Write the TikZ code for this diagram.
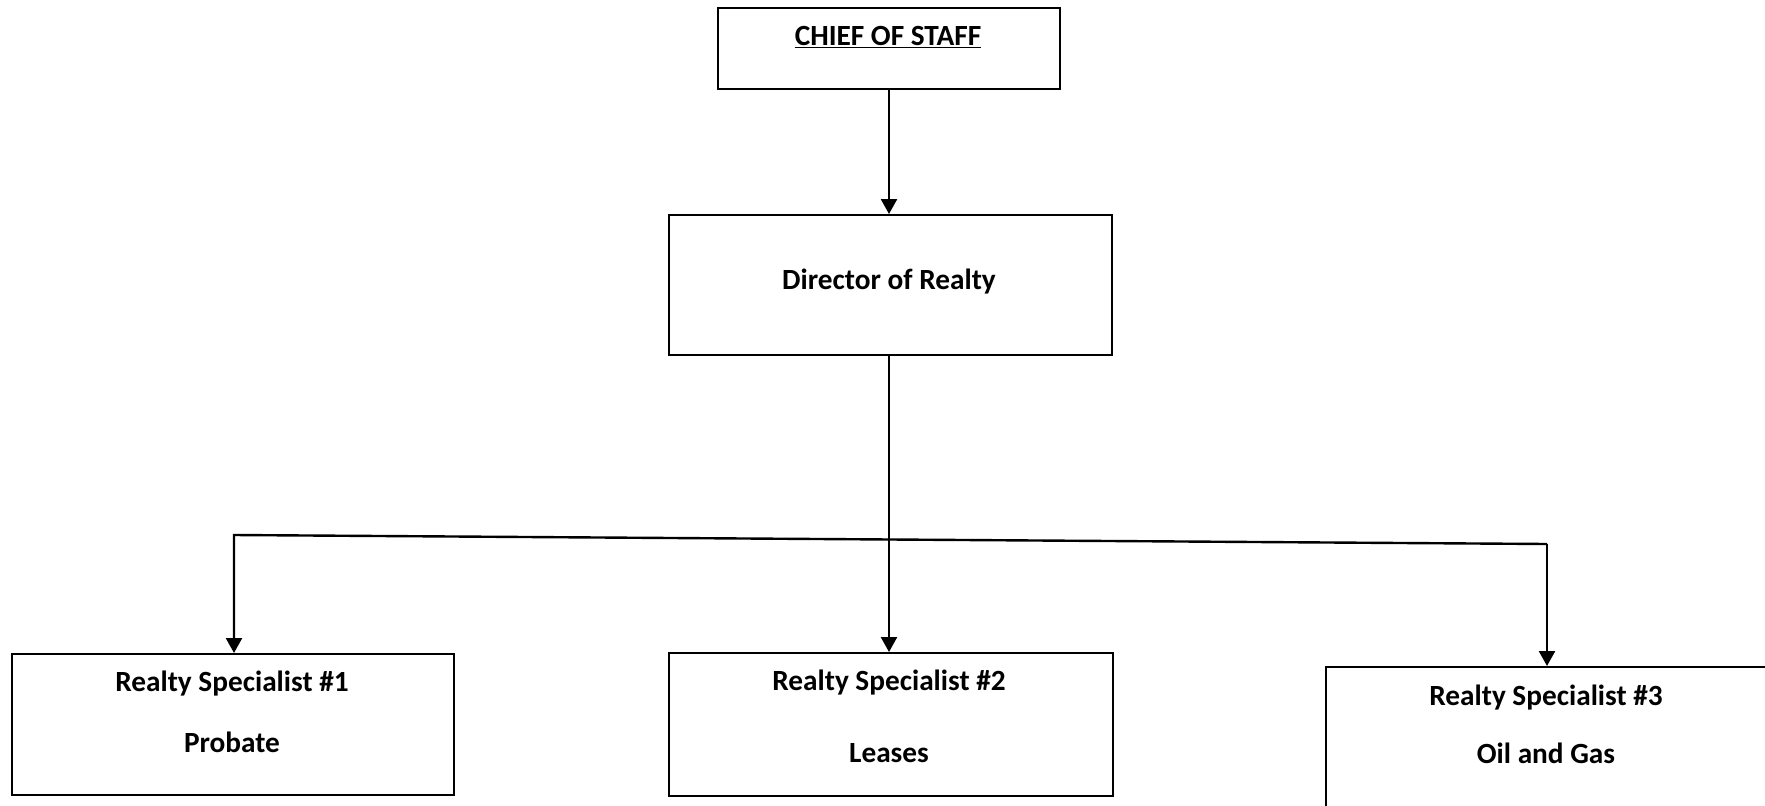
\documentclass[tikz,border=0pt]{standalone}
\usepackage{fontspec}
\setmainfont{Carlito}
\usetikzlibrary{arrows.meta}
\begin{document}
\begin{tikzpicture}[x=1pt,y=-1pt,
  box/.style={draw=black,line width=2pt,inner sep=0pt,anchor=north west},
  lbl/.style={font=\fontsize{29.3}{35}\selectfont\bfseries,inner sep=0pt,anchor=center},
  conn/.style={line width=2.4pt},
  arr/.style={line width=2.4pt,-{Triangle[width=16pt,length=15pt]}}]
\useasboundingbox (0,0) rectangle (1765,806);
\clip (0,0) rectangle (1765,806);
\fill[white] (0,0) rectangle (1765,806);
% boxes
\node[box,minimum width=342pt,minimum height=81pt] (chief) at (717,7) {};
\node[box,minimum width=443pt,minimum height=140pt] (dir) at (668,214) {};
\node[box,minimum width=442pt,minimum height=141pt] (rs1) at (11,653) {};
\node[box,minimum width=444pt,minimum height=143pt] (rs2) at (668,652) {};
\node[box,minimum width=500pt,minimum height=200pt] (rs3) at (1325,666) {};
% texts
\node[lbl] (tchief) at (888,37) {\underline{CHIEF OF STAFF}};
\node[lbl] (tdir) at (889,282) {Director of Realty};
\node[lbl] (t1a) at (232,684) {Realty Specialist \#1};
\node[lbl] (t1b) at (232,742) {Probate};
\node[lbl] (t2a) at (889,683) {Realty Specialist \#2};
\node[lbl] (t2b) at (889,753) {Leases};
\node[lbl] (t3a) at (1546,698) {Realty Specialist \#3};
\node[lbl] (t3b) at (1546,753) {Oil and Gas};
% connectors
\coordinate (hl) at (234,535);
\coordinate (hr) at (1547,544);
\draw[arr] (chief.south -| 889,0) -- (dir.north -| 889,0);
\draw[arr] (dir.south -| 889,0) -- (rs2.north -| 889,0);
\draw[arr,line join=miter] (hr) -- (hl) -- (hl |- rs1.north);
\draw[arr] (hr) -- (hr |- rs3.north);
\end{tikzpicture}
\end{document}
